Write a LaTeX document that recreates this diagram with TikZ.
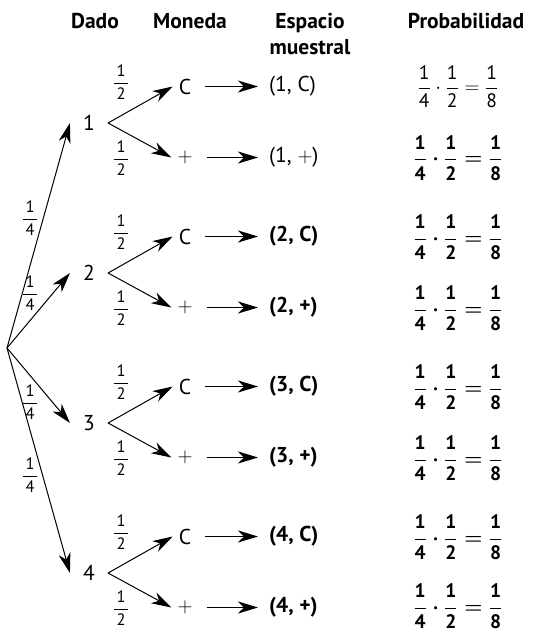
\documentclass[tikz,border=0pt]{standalone}
\usepackage{amsmath}
\usepackage{fontspec}
\setmainfont{PT Sans}
\usetikzlibrary{arrows.meta}
\newcommand{\pfr}[2]{\dfrac{\text{#1}}{\text{#2}}}
\newcommand{\lfr}[2]{\dfrac{\,\text{#1}\,}{\,\text{#2}\,}}
\newcommand{\probexpr}{$\pfr{1}{4}\cdot\pfr{1}{2}=\pfr{1}{8}$}
\tikzset{
  basefont/.style={font=\fontsize{21.5}{24}\selectfont},
  hdr/.style={font=\fontsize{21.5}{24}\selectfont\bfseries, align=center, inner sep=0pt},
  die/.style={basefont, inner xsep=13pt, inner ysep=2pt},
  coin/.style={basefont, inner xsep=6pt},
  outc/.style={basefont, inner xsep=11pt, anchor=west},
  outcb/.style={outc, font=\fontsize{21.5}{24}\selectfont\bfseries},
  prob/.style={font=\fontsize{19.5}{22}\selectfont, inner sep=0pt},
  probb/.style={font=\fontsize{19.5}{22}\selectfont\bfseries\boldmath, inner sep=0pt},
  lab/.style={font=\fontsize{16.5}{18}\selectfont, inner sep=0pt},
  arr/.style={-{Stealth[length=20pt,width=12pt,inset=6pt]}, line width=1pt},
}
\begin{document}
\begin{tikzpicture}[x=1pt,y=-1pt]
\useasboundingbox (0,0) rectangle (543,634);
% headers
\node[hdr] (hd) at (95,21) {Dado};
\node[hdr] (hm) at (190,21) {Moneda};
\node[hdr, font=\fontsize{21.5}{26}\selectfont\bfseries] (he) at (310,34) {Espacio\\muestral};
\node[hdr] (hp) at (466,21) {Probabilidad};
% root
\coordinate (r) at (7,348);
\foreach \i/\y in {1/122,2/272,3/422,4/572}{
  \node[die] (d\i) at (89,\y+1) {\i};
  \draw[arr] (r) -- (d\i.west);
  \node[coin] (c\i) at (185,\y-35.5) {C};
  \node[coin] (p\i) at (185,\y+35.5) {$+$};
  \draw[arr] (d\i.east) -- (c\i.west);
  \draw[arr] (d\i.east) -- (p\i.west);
  \node[lab] (lc\i) at (121,\y-40) {$\lfr{1}{2}$};
  \node[lab] (lp\i) at (121,\y+36) {$\lfr{1}{2}$};
}
% outcomes
\node[outc] (oc1) at (258,86.5) {(1, C)};
\node[outc] (op1) at (258,157.5) {(1, $+$)};
\foreach \i/\y in {2/272,3/422,4/572}{
  \node[outcb] (oc\i) at (258,\y-35.5) {(\i, C)};
  \node[outcb] (op\i) at (258,\y+35.5) {(\i, +)};
}
\foreach \i in {1,2,3,4}{
  \draw[arr, shorten <=8pt] (c\i.east) -- (oc\i.west);
  \draw[arr, shorten <=8pt] (p\i.east) -- (op\i.west);
}
% probabilities
\node[prob] (pr1) at (458,87) {\probexpr};
\foreach \i/\y in {2/158,3/237.5,4/308.5,5/387.5,6/458.5,7/537.5,8/606.5}{
  \node[probb] (pr\i) at (458,\y) {\probexpr};
}
% 1/4 labels
\node[lab] (q1) at (30,218) {$\lfr{1}{4}$};
\node[lab] (q2) at (30,293) {$\lfr{1}{4}$};
\node[lab] (q3) at (30,402) {$\lfr{1}{4}$};
\node[lab] (q4) at (30,475) {$\lfr{1}{4}$};
\end{tikzpicture}
\end{document}
